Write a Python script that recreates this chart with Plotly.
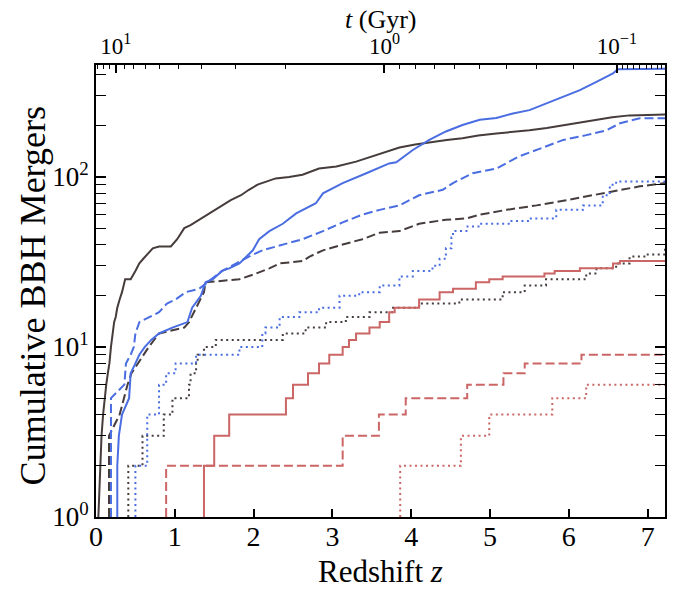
import plotly.graph_objects as go

# ---------------- data ----------------
# Cumulative BBH mergers vs redshift (step curves)
dark_solid_z = [0.03, 0.05, 0.07, 0.09, 0.11, 0.13, 0.15, 0.17, 0.19, 0.21, 0.23, 0.25, 0.27, 0.30, 0.33,
                0.37, 0.44, 0.50, 0.55, 0.60, 0.65, 0.72, 0.80, 0.95, 1.03, 1.12, 1.20, 1.31, 1.41, 1.52,
                1.60, 1.71, 1.84, 1.94, 2.05, 2.18, 2.28, 2.45, 2.62, 2.83, 3.05, 3.30, 3.55, 3.68, 3.85,
                4.05, 4.23, 4.45, 4.65, 4.85, 5.08, 5.30, 5.50, 5.72, 5.93, 6.15, 6.35, 6.55, 6.77, 7.00, 7.22]
dark_solid_n = [1, 2, 3, 4, 5, 6, 7, 8, 10, 12, 14, 15, 17, 19, 21,
                25, 25, 28, 31, 33, 35, 38, 39, 39, 43, 50, 52, 56, 60, 64,
                68, 73, 78, 84, 90, 94, 98, 100, 103, 112, 115, 123, 134, 140, 149,
                155, 160, 165, 169, 175, 180, 184, 188, 194, 201, 209, 217, 224, 230, 232, 233]

blue_solid_z = [0.27, 0.27, 0.29, 0.33, 0.42, 0.44, 0.50, 0.55, 0.62, 0.70, 0.80, 0.97, 1.16, 1.22, 1.33,
                1.39, 1.48, 1.60, 1.69, 1.82, 1.99, 2.07, 2.20, 2.37, 2.54, 2.79, 2.88, 3.13, 3.43, 3.72,
                3.81, 4.02, 4.23, 4.44, 4.65, 4.87, 5.08, 5.29, 5.50, 5.71, 5.93, 6.14, 6.35, 6.56, 6.62, 7.22]
blue_solid_n = [1, 2, 3, 4, 5, 7, 8, 9, 10, 11, 12, 13, 14, 17, 20,
                24, 25, 28, 29, 31, 37, 43, 48, 53, 61, 70, 80, 92, 105, 120,
                122, 144, 165, 185, 202, 217, 222, 236, 247, 270, 295, 324, 362, 406, 430, 432]

blue_dashed_z = [0.19, 0.19, 0.36, 0.38, 0.44, 0.48, 0.50, 0.55, 0.80, 0.90, 1.01, 1.14, 1.31, 1.46, 1.60,
                 1.78, 1.94, 2.11, 2.28, 2.45, 2.62, 2.88, 3.13, 3.38, 3.60, 3.85, 4.10, 4.40, 4.53, 4.78,
                 5.08, 5.37, 5.63, 5.93, 6.22, 6.48, 6.65, 6.90, 7.22]
blue_dashed_n = [1, 5, 6, 8, 9, 10, 12, 14, 16, 18, 19, 21, 22, 25, 28,
                 31, 34, 37, 39, 41, 43, 48, 54, 60, 64, 68, 78, 84, 92, 105,
                 112, 132, 147, 165, 176, 188, 207, 221, 221]

dark_dashed_z = [0.165, 0.165, 0.30, 0.35, 0.40, 0.45, 0.61, 0.67, 0.80, 1.12, 1.18, 1.27, 1.37, 1.39, 1.82,
                 2.03, 2.20, 2.33, 2.62, 2.71, 2.88, 3.13, 3.38, 3.60, 3.85, 4.10, 4.44, 4.70, 4.87, 5.21,
                 5.59, 5.97, 6.31, 6.56, 6.90, 7.22]
dark_dashed_n = [1, 3, 4, 5, 6, 7, 9, 10, 12, 13, 14, 17, 21, 24, 25,
                 27, 29, 31, 32, 34, 37, 40, 43, 47, 48, 53, 56, 57, 60, 64,
                 68, 73, 78, 82, 88, 92]

blue_dotted_z = [0.50, 0.50, 0.65, 0.65, 0.80, 0.89, 1.01, 1.27, 1.60, 1.82, 2.11, 2.15, 2.33, 2.58, 2.83,
                 3.09, 3.34, 3.60, 3.85, 4.02, 4.27, 4.36, 4.44, 4.51, 4.53, 4.70, 4.87, 5.25, 5.50, 5.84,
                 6.18, 6.43, 6.52, 6.60, 7.22]
blue_dotted_n = [1, 2, 3, 4, 6, 7, 8, 9, 9, 10, 12, 13, 15, 16, 17,
                 20, 21, 23, 26, 28, 30, 33, 38, 44, 48, 51, 53, 55, 57, 64,
                 68, 78, 90, 94, 94]

dark_dotted_z = [0.41, 0.41, 0.59, 0.86, 0.97, 1.18, 1.20, 1.27, 1.29, 1.37, 1.52, 2.37, 2.66, 2.92, 3.17,
                 3.47, 3.77, 4.10, 4.61, 5.16, 5.44, 5.71, 6.22, 6.35, 6.60, 6.77, 6.98, 7.22]
dark_dotted_n = [1, 2, 3, 4, 5, 6, 7, 8, 9, 10, 11, 12, 13, 14, 15,
                 16, 17, 18, 19, 21, 23, 25, 27, 29, 31, 34, 35, 39]

red_solid_z = [1.37, 1.37, 1.50, 1.69, 2.41, 2.50, 2.69, 2.83, 2.96, 3.13, 3.21, 3.30, 3.47, 3.60, 3.72,
               3.79, 4.10, 4.36, 4.53, 4.82, 4.99, 5.16, 5.69, 5.82, 6.14, 6.56, 6.65, 7.22]
red_solid_n = [1, 2, 3, 4, 5, 6, 7, 8, 9, 10, 11, 12, 13, 14, 16,
               17, 19, 21, 22, 24, 25, 26, 27, 28, 29, 31, 32, 32]

red_dashed_z = [0.89, 0.89, 3.13, 3.59, 3.93, 4.71, 5.17, 5.44, 6.16, 7.22]
red_dashed_n = [1, 2, 3, 4, 5, 6, 7, 8, 9, 9]

red_dotted_z = [3.86, 3.86, 4.63, 4.99, 5.79, 6.22, 7.22]
red_dotted_n = [1, 2, 3, 4, 5, 6, 6]

# bottom axis ticks
z_ticks = [0, 1, 2, 3, 4, 5, 6, 7]
z_tick_labels = ["0", "1", "2", "3", "4", "5", "6", "7"]

# left axis ticks
n_ticks = [1, 10, 100]
n_tick_labels = ["10<sup>0</sup>", "10<sup>1</sup>", "10<sup>2</sup>"]
n_minor = [2, 3, 4, 5, 6, 7, 8, 9, 20, 30, 40, 50, 60, 70, 80, 90, 200, 300, 400]

# top axis: cosmic time t (Gyr) and the redshift where each tick sits
t_major = [10, 1, 0.1]
t_major_labels = ["10<sup>1</sup>", "10<sup>0</sup>", "10<sup>\u22121</sup>"]
t_major_z = [0.25, 3.66, 6.61]
t_minor = [13, 12, 11, 9, 8, 7, 6, 5, 4, 3, 2,
           0.9, 0.8, 0.7, 0.6, 0.5, 0.4, 0.3, 0.2,
           0.09, 0.08, 0.07, 0.06, 0.05, 0.04, 0.03, 0.02]
t_minor_z = [0.02, 0.09, 0.165, 0.356, 0.48, 0.63, 0.81, 1.05, 1.34, 1.77, 2.41,
             3.85, 4.06, 4.29, 4.55, 4.86, 5.21, 5.59, 6.06,
             6.68, 6.75, 6.82, 6.90, 6.98, 7.05, 7.12, 7.17]

z_max = 7.22
n_max_log = 2.658

# ---------------- styling ----------------
DARK = "#463c3c"
BLUE = "#4a6de2"
RED = "#cc6666"
DASH = "9px,4px"
DOT = "2px,3.5px"

# (z, n, colour, dash, line shape)
series = [
    (dark_solid_z, dark_solid_n, DARK, "solid", "linear"),
    (dark_dashed_z, dark_dashed_n, DARK, DASH, "linear"),
    (dark_dotted_z, dark_dotted_n, DARK, DOT, "hv"),
    (red_solid_z, red_solid_n, RED, "solid", "hv"),
    (red_dashed_z, red_dashed_n, RED, DASH, "hv"),
    (red_dotted_z, red_dotted_n, RED, DOT, "hv"),
    (blue_dotted_z, blue_dotted_n, BLUE, DOT, "hv"),
    (blue_dashed_z, blue_dashed_n, BLUE, DASH, "linear"),
    (blue_solid_z, blue_solid_n, BLUE, "solid", "linear"),
]

fig = go.Figure()
for z, n, c, d, shp in series:
    fig.add_trace(go.Scatter(x=z, y=n, mode="lines",
                             line=dict(color=c, width=2, dash=d, shape=shp),
                             showlegend=False, hoverinfo="skip"))
# empty trace so the top (time) axis is drawn
fig.add_trace(go.Scatter(x=[], y=[], xaxis="x2", yaxis="y", showlegend=False))

FONT = "Liberation Serif"
# the page body adds an 8px offset, so margins are shifted to keep the plot frame in place
fig.update_layout(
    width=688, height=589,
    margin=dict(l=88, r=31, t=57, b=80, autoexpand=False),
    plot_bgcolor="white", paper_bgcolor="white",
    font=dict(family=FONT, color="black"),
    xaxis=dict(range=[0, z_max], tickmode="array", tickvals=z_ticks, ticktext=z_tick_labels,
               ticks="inside", ticklen=8, tickwidth=1.5, tickcolor="black", automargin=False,
               ticklabelstandoff=-7,
               showline=True, linecolor="black", linewidth=2, mirror=False,
               showgrid=False, zeroline=False, tickfont=dict(size=28, family=FONT)),
    xaxis2=dict(overlaying="x", side="top", anchor="y", range=[0, z_max], tickmode="array",
                tickvals=t_major_z, ticktext=t_major_labels, automargin=False,
                ticks="inside", ticklen=8, tickwidth=1.5, tickcolor="black",
                minor=dict(tickmode="array", tickvals=t_minor_z, ticks="inside", ticklen=4,
                           tickwidth=1.2, tickcolor="black", showgrid=False),
                showline=True, linecolor="black", linewidth=2,
                showgrid=False, zeroline=False, tickfont=dict(size=23, family=FONT)),
    yaxis=dict(type="log", range=[0, n_max_log], tickmode="array", tickvals=n_ticks, ticktext=n_tick_labels,
               ticks="inside", ticklen=10, tickwidth=1.5, tickcolor="black", automargin=False,
               minor=dict(tickmode="array", tickvals=n_minor, ticks="inside", ticklen=6,
                          tickwidth=1.2, tickcolor="black", showgrid=False),
               showline=True, linecolor="black", linewidth=2, mirror="allticks",
               showgrid=False, zeroline=False, tickfont=dict(size=27, family=FONT)),
    annotations=[
        dict(text="Redshift <i>z</i>", xref="paper", yref="paper", x=0.5, y=-0.121,
             xanchor="center", yanchor="middle", showarrow=False, font=dict(size=31, family=FONT)),
        dict(text="<i>t</i> (Gyr)", xref="paper", yref="paper", x=0.5, y=1.101,
             xanchor="center", yanchor="middle", showarrow=False, font=dict(size=26, family=FONT)),
        dict(text="Cumulative BBH Mergers", xref="paper", yref="paper", x=-0.110, y=0.489,
             xanchor="center", yanchor="middle", textangle=-90, showarrow=False,
             font=dict(size=36, family=FONT)),
    ],
)

fig.write_html("out.html")
